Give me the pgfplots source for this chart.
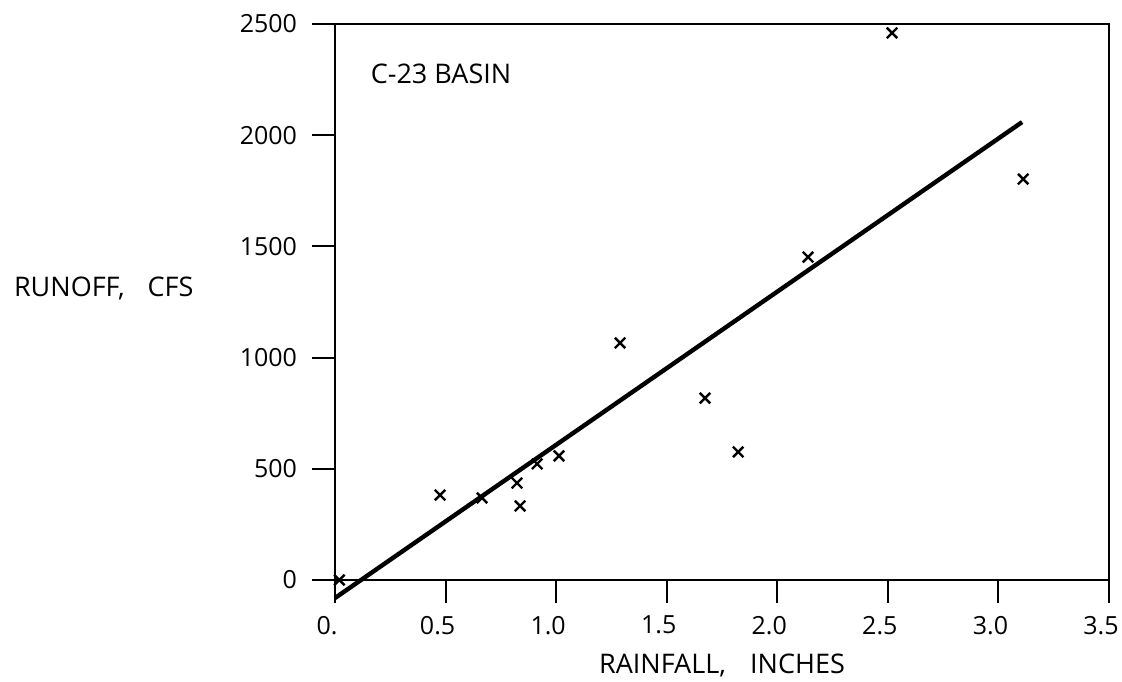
\documentclass[border=0pt]{standalone}
\usepackage{fontspec}
\setmainfont{Open Sans}
\usepackage{pgfplots}
\pgfplotsset{compat=1.18}
\begin{document}
\begin{tikzpicture}
\begin{axis}[
  scale only axis,
  width=387pt, height=278pt,
  at={(0,0)}, anchor=south west,
  xmin=0, xmax=3.5, ymin=0, ymax=2500,
  clip=false,
  axis line style={line width=1pt},
  tick align=outside,
  major tick length=11.5pt,
  tick style={line width=1pt, black},
  xtick pos=bottom, ytick pos=left,
  xtick={0,0.5,1,1.5,2,2.5,3,3.5},
  xticklabels={0.,0.5,1.0,1.5,2.0,2.5,3.0,3.5},
  ytick={0,500,1000,1500,2000,2500},
  yticklabels={0,500,1000,1500,2000,2500},
  ticklabel style={font=\fontsize{12.5}{14}\selectfont},
  yticklabel style={xshift=-4pt},
  xticklabel style={yshift=-3pt, xshift=-4pt},
]
\addplot[only marks, mark=x, mark size=3.7pt, mark options={line width=1.2pt, black}] coordinates {
(0.02,0) (0.475,382) (0.665,369) (0.823,436) (0.837,333) (0.914,522)
(1.013,558) (1.289,1066) (1.673,818) (1.823,576) (2.139,1452)
(2.519,2460) (3.112,1803)
};
\addplot[black, line width=2.2pt] coordinates {(0,-81) (3.107,2059)};
\node[anchor=west, font=\fontsize{13.5}{15}\selectfont] at (axis cs:0.13,2275) {C-23 BASIN};
\end{axis}
\node[anchor=west, font=\fontsize{13.5}{15}\selectfont] at (-164pt,146pt) {RUNOFF,\hspace{0.85em}CFS};
\node[font=\fontsize{13.5}{15}\selectfont] at (193.5pt,-42.5pt) {RAINFALL,\hspace{0.9em}INCHES};
\pgfresetboundingbox
\path (-167.5pt,-50.5pt) rectangle (393.5pt,290pt);
\end{tikzpicture}
\end{document}
